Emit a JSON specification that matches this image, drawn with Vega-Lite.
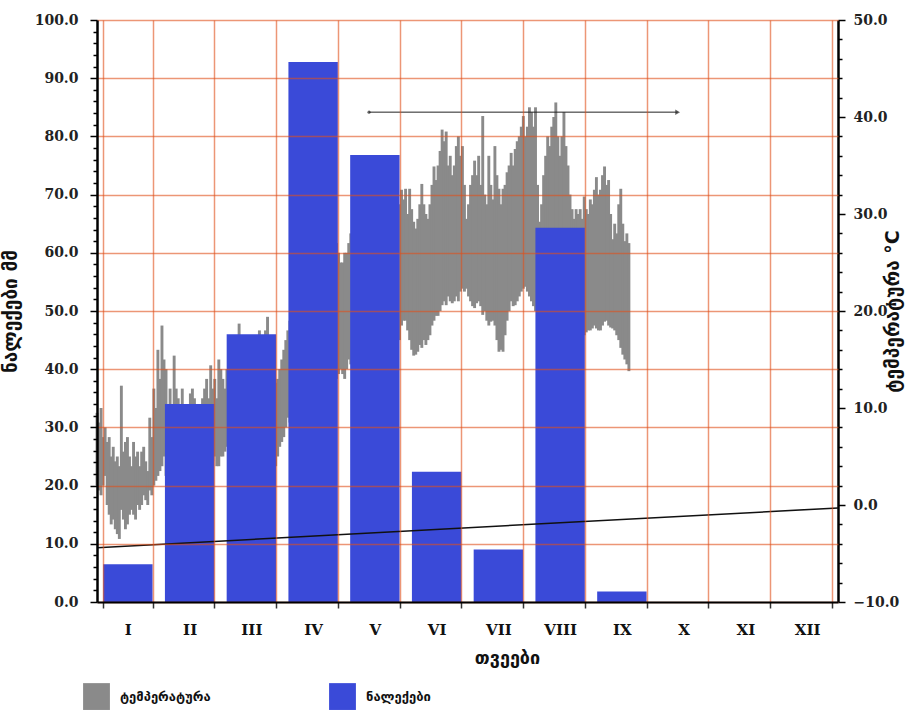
{
  "$schema": "https://vega.github.io/schema/vega-lite/v6.json",
  "width": 741,
  "height": 582,
  "autosize": {"type": "none"},
  "padding": {"left": 97, "top": 20, "right": 76, "bottom": 115},
  "background": "white",
  "config": {"view": {"stroke": null}},
  "datasets": {
    "rain": [
      {"month": "I", "p": 6.5}, {"month": "II", "p": 34}, {"month": "III", "p": 46},
      {"month": "IV", "p": 92.8}, {"month": "V", "p": 76.8}, {"month": "VI", "p": 22.4},
      {"month": "VII", "p": 9}, {"month": "VIII", "p": 64.3}, {"month": "IX", "p": 1.8},
      {"month": "X", "p": 0}, {"month": "XI", "p": 0}, {"month": "XII", "p": 0}
    ],
    "temp": [
      {"day": 0, "lo": 2, "hi": 9.5}, {"day": 1, "lo": 1.5, "hi": 8.5}, {"day": 2, "lo": 1, "hi": 10}, {"day": 3, "lo": 2, "hi": 7},
      {"day": 4, "lo": 3, "hi": 8}, {"day": 5, "lo": 0, "hi": 6.5}, {"day": 6, "lo": -1, "hi": 7}, {"day": 7, "lo": -2, "hi": 5},
      {"day": 8, "lo": -1.5, "hi": 6}, {"day": 9, "lo": -2.5, "hi": 4.5}, {"day": 10, "lo": -3, "hi": 5}, {"day": 11, "lo": -3.5, "hi": 4},
      {"day": 12, "lo": -0.5, "hi": 12.3}, {"day": 13, "lo": -1.5, "hi": 5.5}, {"day": 14, "lo": -2.5, "hi": 6.5}, {"day": 15, "lo": -2, "hi": 7},
      {"day": 16, "lo": -1, "hi": 5}, {"day": 17, "lo": -0.5, "hi": 4}, {"day": 18, "lo": -1, "hi": 6.5}, {"day": 19, "lo": -1.5, "hi": 5},
      {"day": 20, "lo": 0, "hi": 5.5}, {"day": 21, "lo": -0.5, "hi": 4}, {"day": 22, "lo": 0, "hi": 5.5}, {"day": 23, "lo": 1, "hi": 6},
      {"day": 24, "lo": 0.5, "hi": 4.5}, {"day": 25, "lo": 0, "hi": 3.5}, {"day": 26, "lo": 1.5, "hi": 9}, {"day": 27, "lo": 1, "hi": 7},
      {"day": 28, "lo": 2, "hi": 12}, {"day": 29, "lo": 2.5, "hi": 10}, {"day": 30, "lo": 3, "hi": 16}, {"day": 31, "lo": 3.5, "hi": 13},
      {"day": 32, "lo": 4, "hi": 18.5}, {"day": 33, "lo": 5, "hi": 15}, {"day": 34, "lo": 3, "hi": 14}, {"day": 35, "lo": 2.5, "hi": 10},
      {"day": 36, "lo": 4, "hi": 12}, {"day": 37, "lo": 5, "hi": 10}, {"day": 38, "lo": 6, "hi": 15.4}, {"day": 39, "lo": 5.5, "hi": 12},
      {"day": 40, "lo": 5, "hi": 11}, {"day": 41, "lo": 4.5, "hi": 9}, {"day": 42, "lo": 4, "hi": 12}, {"day": 43, "lo": 3.5, "hi": 10},
      {"day": 44, "lo": 3, "hi": 10}, {"day": 45, "lo": 4, "hi": 9}, {"day": 46, "lo": 5, "hi": 11.5}, {"day": 47, "lo": 6, "hi": 12},
      {"day": 48, "lo": 6, "hi": 11}, {"day": 49, "lo": 5, "hi": 9.5}, {"day": 50, "lo": 5, "hi": 10}, {"day": 51, "lo": 4, "hi": 9},
      {"day": 52, "lo": 4, "hi": 11}, {"day": 53, "lo": 5, "hi": 12}, {"day": 54, "lo": 6, "hi": 13}, {"day": 55, "lo": 5, "hi": 11},
      {"day": 56, "lo": 4, "hi": 14.4}, {"day": 57, "lo": 4.5, "hi": 12}, {"day": 58, "lo": 5, "hi": 13}, {"day": 59, "lo": 4, "hi": 11},
      {"day": 60, "lo": 4, "hi": 15}, {"day": 61, "lo": 5, "hi": 14}, {"day": 62, "lo": 5, "hi": 13}, {"day": 63, "lo": 5.5, "hi": 12},
      {"day": 64, "lo": 6, "hi": 14}, {"day": 65, "lo": 7, "hi": 15}, {"day": 66, "lo": 8, "hi": 16}, {"day": 67, "lo": 8, "hi": 15},
      {"day": 68, "lo": 9, "hi": 17}, {"day": 69, "lo": 9, "hi": 16}, {"day": 70, "lo": 8, "hi": 18.7}, {"day": 71, "lo": 7.5, "hi": 16},
      {"day": 72, "lo": 7, "hi": 15}, {"day": 73, "lo": 7, "hi": 14}, {"day": 74, "lo": 8, "hi": 16}, {"day": 75, "lo": 8.5, "hi": 15},
      {"day": 76, "lo": 9, "hi": 17}, {"day": 77, "lo": 9.5, "hi": 16}, {"day": 78, "lo": 10, "hi": 16}, {"day": 79, "lo": 10, "hi": 17},
      {"day": 80, "lo": 10, "hi": 18}, {"day": 81, "lo": 10.5, "hi": 17}, {"day": 82, "lo": 11, "hi": 17}, {"day": 83, "lo": 10, "hi": 18},
      {"day": 84, "lo": 10, "hi": 19.4}, {"day": 85, "lo": 7, "hi": 16}, {"day": 86, "lo": 5, "hi": 14}, {"day": 87, "lo": 4.5, "hi": 12.6},
      {"day": 88, "lo": 4, "hi": 12.6}, {"day": 89, "lo": 5, "hi": 13}, {"day": 90, "lo": 6, "hi": 14}, {"day": 91, "lo": 6.5, "hi": 15},
      {"day": 92, "lo": 7, "hi": 16}, {"day": 93, "lo": 8, "hi": 17}, {"day": 94, "lo": 9, "hi": 18}, {"day": 95, "lo": 8.5, "hi": 19},
      {"day": 96, "lo": 8, "hi": 20}, {"day": 97, "lo": 9, "hi": 19}, {"day": 98, "lo": 10, "hi": 19}, {"day": 99, "lo": 10.5, "hi": 21},
      {"day": 100, "lo": 11, "hi": 22}, {"day": 101, "lo": 10, "hi": 21}, {"day": 102, "lo": 10, "hi": 21}, {"day": 103, "lo": 11, "hi": 22},
      {"day": 104, "lo": 12, "hi": 23}, {"day": 105, "lo": 12.5, "hi": 24}, {"day": 106, "lo": 13, "hi": 24}, {"day": 107, "lo": 12, "hi": 23},
      {"day": 108, "lo": 11, "hi": 22}, {"day": 109, "lo": 12, "hi": 24}, {"day": 110, "lo": 13, "hi": 25}, {"day": 111, "lo": 13.5, "hi": 24},
      {"day": 112, "lo": 14, "hi": 24}, {"day": 113, "lo": 13, "hi": 25}, {"day": 114, "lo": 13, "hi": 26}, {"day": 115, "lo": 12.5, "hi": 27},
      {"day": 116, "lo": 12.1, "hi": 28.8}, {"day": 117, "lo": 12.5, "hi": 28}, {"day": 118, "lo": 13, "hi": 27}, {"day": 119, "lo": 13.5, "hi": 26},
      {"day": 120, "lo": 14, "hi": 25}, {"day": 121, "lo": 13.5, "hi": 25}, {"day": 122, "lo": 13, "hi": 26}, {"day": 123, "lo": 14, "hi": 26},
      {"day": 124, "lo": 15, "hi": 27}, {"day": 125, "lo": 14.5, "hi": 28}, {"day": 126, "lo": 14, "hi": 28}, {"day": 127, "lo": 15, "hi": 29},
      {"day": 128, "lo": 16, "hi": 29}, {"day": 129, "lo": 15.5, "hi": 30}, {"day": 130, "lo": 15, "hi": 30}, {"day": 131, "lo": 16, "hi": 31},
      {"day": 132, "lo": 17, "hi": 31}, {"day": 133, "lo": 16.5, "hi": 30}, {"day": 134, "lo": 16, "hi": 30}, {"day": 135, "lo": 16.5, "hi": 31},
      {"day": 136, "lo": 17, "hi": 32}, {"day": 137, "lo": 17.5, "hi": 33}, {"day": 138, "lo": 18, "hi": 33}, {"day": 139, "lo": 17, "hi": 32},
      {"day": 140, "lo": 16, "hi": 31}, {"day": 141, "lo": 16.5, "hi": 32}, {"day": 142, "lo": 17, "hi": 33}, {"day": 143, "lo": 17.5, "hi": 34},
      {"day": 144, "lo": 18, "hi": 34}, {"day": 145, "lo": 17, "hi": 33}, {"day": 146, "lo": 16, "hi": 32}, {"day": 147, "lo": 16, "hi": 31.5},
      {"day": 148, "lo": 15.4, "hi": 33.3}, {"day": 149, "lo": 17, "hi": 31}, {"day": 150, "lo": 18.5, "hi": 32.5}, {"day": 151, "lo": 19, "hi": 31.5},
      {"day": 152, "lo": 19, "hi": 32.6}, {"day": 153, "lo": 18, "hi": 30}, {"day": 154, "lo": 17, "hi": 32.6}, {"day": 155, "lo": 16, "hi": 30.5},
      {"day": 156, "lo": 15.4, "hi": 29.2}, {"day": 157, "lo": 15.5, "hi": 28.5}, {"day": 158, "lo": 15.8, "hi": 29.5}, {"day": 159, "lo": 16.5, "hi": 31},
      {"day": 160, "lo": 16.2, "hi": 33.1}, {"day": 161, "lo": 17, "hi": 31}, {"day": 162, "lo": 16.5, "hi": 30}, {"day": 163, "lo": 17, "hi": 29.5},
      {"day": 164, "lo": 17.5, "hi": 31}, {"day": 165, "lo": 18.5, "hi": 33}, {"day": 166, "lo": 19, "hi": 34.9}, {"day": 167, "lo": 19.5, "hi": 33.5},
      {"day": 168, "lo": 19.5, "hi": 35}, {"day": 169, "lo": 20, "hi": 36.5}, {"day": 170, "lo": 20.6, "hi": 38.7}, {"day": 171, "lo": 21, "hi": 37.5},
      {"day": 172, "lo": 20.6, "hi": 38.5}, {"day": 173, "lo": 21.5, "hi": 35}, {"day": 174, "lo": 21, "hi": 36}, {"day": 175, "lo": 20.8, "hi": 34},
      {"day": 176, "lo": 21, "hi": 35}, {"day": 177, "lo": 21.5, "hi": 37}, {"day": 178, "lo": 21, "hi": 38}, {"day": 179, "lo": 22, "hi": 36},
      {"day": 180, "lo": 22.3, "hi": 37}, {"day": 181, "lo": 22, "hi": 33}, {"day": 182, "lo": 22.3, "hi": 29.5}, {"day": 183, "lo": 21.5, "hi": 31},
      {"day": 184, "lo": 21, "hi": 33}, {"day": 185, "lo": 20.5, "hi": 34}, {"day": 186, "lo": 20.3, "hi": 35.5}, {"day": 187, "lo": 20.8, "hi": 34},
      {"day": 188, "lo": 21, "hi": 36}, {"day": 189, "lo": 20.5, "hi": 33}, {"day": 190, "lo": 19.6, "hi": 40.1}, {"day": 191, "lo": 20, "hi": 32},
      {"day": 192, "lo": 19, "hi": 31}, {"day": 193, "lo": 18.5, "hi": 36}, {"day": 194, "lo": 18.9, "hi": 33}, {"day": 195, "lo": 19, "hi": 31.5},
      {"day": 196, "lo": 18.5, "hi": 37}, {"day": 197, "lo": 17, "hi": 34}, {"day": 198, "lo": 15.8, "hi": 32.6}, {"day": 199, "lo": 16, "hi": 31},
      {"day": 200, "lo": 15.8, "hi": 32.6}, {"day": 201, "lo": 17.5, "hi": 33}, {"day": 202, "lo": 19, "hi": 34.3}, {"day": 203, "lo": 20, "hi": 35},
      {"day": 204, "lo": 21, "hi": 36.3}, {"day": 205, "lo": 20.5, "hi": 35}, {"day": 206, "lo": 20.6, "hi": 36.7}, {"day": 207, "lo": 21, "hi": 37.5},
      {"day": 208, "lo": 21.5, "hi": 38}, {"day": 209, "lo": 22, "hi": 39}, {"day": 210, "lo": 22.3, "hi": 40.1}, {"day": 211, "lo": 22.5, "hi": 38},
      {"day": 212, "lo": 22, "hi": 39}, {"day": 213, "lo": 21.5, "hi": 41}, {"day": 214, "lo": 21, "hi": 40.5}, {"day": 215, "lo": 20.5, "hi": 39},
      {"day": 216, "lo": 20, "hi": 41}, {"day": 217, "lo": 20.5, "hi": 33}, {"day": 218, "lo": 21, "hi": 29.2}, {"day": 219, "lo": 20.5, "hi": 31},
      {"day": 220, "lo": 20, "hi": 34}, {"day": 221, "lo": 20.5, "hi": 36}, {"day": 222, "lo": 21, "hi": 38}, {"day": 223, "lo": 21.5, "hi": 37},
      {"day": 224, "lo": 22, "hi": 39}, {"day": 225, "lo": 22, "hi": 40}, {"day": 226, "lo": 22, "hi": 41.5}, {"day": 227, "lo": 21.5, "hi": 38},
      {"day": 228, "lo": 21, "hi": 36}, {"day": 229, "lo": 21, "hi": 38}, {"day": 230, "lo": 21.5, "hi": 40.5}, {"day": 231, "lo": 21, "hi": 37},
      {"day": 232, "lo": 20, "hi": 35}, {"day": 233, "lo": 19.5, "hi": 32}, {"day": 234, "lo": 19, "hi": 30.5}, {"day": 235, "lo": 19.5, "hi": 29.5},
      {"day": 236, "lo": 19.5, "hi": 30.5}, {"day": 237, "lo": 18.5, "hi": 30}, {"day": 238, "lo": 18, "hi": 30.5}, {"day": 239, "lo": 17.8, "hi": 29.5},
      {"day": 240, "lo": 17.5, "hi": 31.8}, {"day": 241, "lo": 17.8, "hi": 30.5}, {"day": 242, "lo": 18, "hi": 30}, {"day": 243, "lo": 18, "hi": 31.5},
      {"day": 244, "lo": 18.2, "hi": 31}, {"day": 245, "lo": 18.5, "hi": 32.5}, {"day": 246, "lo": 18.2, "hi": 33.8}, {"day": 247, "lo": 18, "hi": 32},
      {"day": 248, "lo": 18, "hi": 32.5}, {"day": 249, "lo": 18.5, "hi": 34}, {"day": 250, "lo": 18.9, "hi": 34.9}, {"day": 251, "lo": 19, "hi": 33},
      {"day": 252, "lo": 18.5, "hi": 33.5}, {"day": 253, "lo": 18.3, "hi": 30}, {"day": 254, "lo": 18.2, "hi": 27.4}, {"day": 255, "lo": 18, "hi": 29},
      {"day": 256, "lo": 17.5, "hi": 28}, {"day": 257, "lo": 17, "hi": 31}, {"day": 258, "lo": 16.2, "hi": 32.6}, {"day": 259, "lo": 15.5, "hi": 29},
      {"day": 260, "lo": 15, "hi": 27.2}, {"day": 261, "lo": 14.5, "hi": 28}, {"day": 262, "lo": 13.8, "hi": 27}
    ],
    "trend": [{"day": 0, "t": -4.4}, {"day": 365, "t": -0.3}],
    "arrowLine": [{"day": 134, "t": 40.5}, {"day": 286, "t": 40.5}],
    "arrowHead": [{"day": 286, "t": 40.5}],
    "arrowTail": [{"day": 134, "t": 40.5}]
  },
  "layer": [
    {
      "data": {"name": "temp"},
      "mark": {"type": "rule", "strokeWidth": 2.9},
      "encoding": {
        "x": {"field": "day", "type": "quantitative", "scale": {"domain": [0, 365], "nice": false, "zero": false}, "axis": null},
        "y": {
          "field": "lo", "type": "quantitative",
          "scale": {"domain": [-10, 50], "nice": false, "zero": false},
          "axis": {
            "orient": "right",
            "values": [-10, -8, -6, -4, -2, 0, 2, 4, 6, 8, 10, 12, 14, 16, 18, 20, 22, 24, 26, 28, 30, 32, 34, 36, 38, 40, 42, 44, 46, 48, 50],
            "labelExpr": "datum.value % 10 === 0 ? format(datum.value, '.1f') : ''",
            "tickSize": {"condition": {"test": "datum.value % 10 === 0", "value": 7}, "value": 4},
            "grid": false,
            "domainColor": "black", "domainWidth": 2.5,
            "tickColor": "black", "tickWidth": 1.5,
            "labelFont": "DejaVu Serif", "labelFontWeight": "bold", "labelFontSize": 14, "labelColor": "#222",
            "labelPadding": 8, "labelOverlap": false,
            "title": "ტემპერატურა °C", "titleFont": "DejaVu Sans", "titleFontSize": 19, "titleFontWeight": "bold",
            "titleAngle": 270, "titleBaseline": "bottom", "titlePadding": 4, "titleColor": "#111"
          }
        },
        "y2": {"field": "hi"},
        "color": {
          "datum": "ტემპერატურა",
          "scale": {"domain": ["ტემპერატურა", "ნალექები"], "range": ["#8a8a8a", "#3a4ad8"]},
          "legend": {
            "orient": "none", "legendX": -14, "legendY": 663, "direction": "horizontal", "title": null,
            "symbolType": "square", "symbolSize": 720, "symbolStrokeWidth": 0, "symbolOpacity": 1,
            "labelFont": "DejaVu Sans", "labelFontSize": 13, "labelFontWeight": "bold", "labelColor": "#111",
            "labelOffset": 10, "columnPadding": 118, "labelBaseline": "middle"
          }
        }
      }
    },
    {
      "data": {"name": "rain"},
      "mark": {"type": "bar"},
      "encoding": {
        "x": {
          "field": "month", "type": "ordinal", "sort": null,
          "scale": {"paddingInner": 0.2, "paddingOuter": 0.1},
          "axis": {
            "tickBand": "extent", "labelAngle": 0, "tickSize": 6, "tickColor": "#333", "tickWidth": 1.5,
            "domainColor": "black", "domainWidth": 2,
            "grid": true, "gridColor": "#e0501a", "gridOpacity": 0.6, "gridWidth": 1.5,
            "labelFont": "DejaVu Serif", "labelFontWeight": "bold", "labelFontSize": 15, "labelColor": "#111",
            "labelPadding": 14,
            "title": "თვეები", "titleFont": "DejaVu Sans", "titleFontSize": 18, "titleFontWeight": "bold",
            "titlePadding": 12, "titleColor": "#111", "titleX": 410, "zindex": 1
          }
        },
        "y": {
          "field": "p", "type": "quantitative",
          "scale": {"domain": [0, 100], "nice": false},
          "axis": {
            "orient": "left",
            "values": [0, 2, 4, 6, 8, 10, 12, 14, 16, 18, 20, 22, 24, 26, 28, 30, 32, 34, 36, 38, 40, 42, 44, 46, 48, 50, 52, 54, 56, 58, 60, 62, 64, 66, 68, 70, 72, 74, 76, 78, 80, 82, 84, 86, 88, 90, 92, 94, 96, 98, 100],
            "labelExpr": "datum.value % 10 === 0 ? format(datum.value, '.1f') : ''",
            "tickSize": {"condition": {"test": "datum.value % 10 === 0", "value": 7}, "value": 4},
            "grid": true, "gridColor": "#e0501a", "gridWidth": 1.5,
            "gridOpacity": {"condition": {"test": "datum.value % 10 === 0", "value": 0.6}, "value": 0},
            "domainColor": "black", "domainWidth": 2.5,
            "tickColor": "black", "tickWidth": 1.5,
            "labelFont": "DejaVu Serif", "labelFontWeight": "bold", "labelFontSize": 14, "labelColor": "#222",
            "labelPadding": 12, "labelOverlap": false,
            "title": "ნალექები  მმ", "titleFont": "DejaVu Sans", "titleFontSize": 19, "titleFontWeight": "bold",
            "titlePadding": 14, "titleColor": "#111", "zindex": 1
          }
        },
        "color": {"datum": "ნალექები"}
      }
    },
    {
      "data": {"name": "trend"},
      "mark": {"type": "line", "color": "#111", "strokeWidth": 1.5},
      "encoding": {
        "x": {"field": "day", "type": "quantitative", "scale": {"domain": [0, 365], "nice": false, "zero": false}, "axis": null},
        "y": {"field": "t", "type": "quantitative", "scale": {"domain": [-10, 50], "nice": false, "zero": false}, "axis": null}
      }
    },
    {
      "data": {"name": "arrowLine"},
      "mark": {"type": "line", "color": "#222", "strokeWidth": 1},
      "encoding": {
        "x": {"field": "day", "type": "quantitative", "scale": {"domain": [0, 365], "nice": false, "zero": false}, "axis": null},
        "y": {"field": "t", "type": "quantitative", "scale": {"domain": [-10, 50], "nice": false, "zero": false}, "axis": null}
      }
    },
    {
      "data": {"name": "arrowHead"},
      "mark": {"type": "point", "shape": "triangle-right", "filled": true, "color": "#222", "size": 30},
      "encoding": {
        "x": {"field": "day", "type": "quantitative", "scale": {"domain": [0, 365], "nice": false, "zero": false}, "axis": null},
        "y": {"field": "t", "type": "quantitative", "scale": {"domain": [-10, 50], "nice": false, "zero": false}, "axis": null}
      }
    },
    {
      "data": {"name": "arrowTail"},
      "mark": {"type": "point", "shape": "circle", "filled": true, "color": "#222", "size": 10},
      "encoding": {
        "x": {"field": "day", "type": "quantitative", "scale": {"domain": [0, 365], "nice": false, "zero": false}, "axis": null},
        "y": {"field": "t", "type": "quantitative", "scale": {"domain": [-10, 50], "nice": false, "zero": false}, "axis": null}
      }
    }
  ],
  "resolve": {"scale": {"x": "independent", "y": "independent"}}
}
